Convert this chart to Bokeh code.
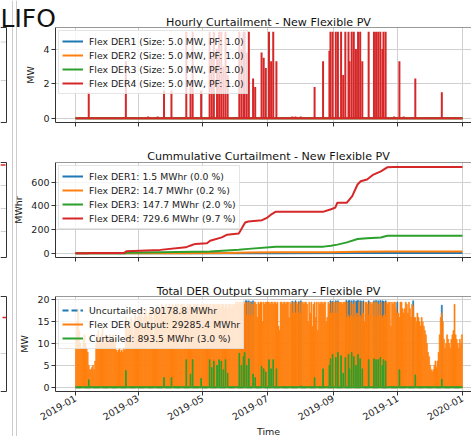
import pandas as pd
from bokeh.plotting import figure
from bokeh.layouts import column
from bokeh.models import (Range1d, FixedTicker, DatetimeTickFormatter, Legend, LegendItem,
                          Span, GridBox, CustomJSTickFormatter)
from bokeh.core.properties import value
from bokeh.embed import file_html
from bokeh.resources import INLINE

FONT = "DejaVu Sans"
C_BLUE, C_ORANGE, C_GREEN, C_RED = "#1f77b4", "#ff7f0e", "#2ca02c", "#d62728"

# ---------------- data ----------------
start_date = "2019-01-01"
tick_labels = ["2019-01", "2019-03", "2019-05", "2019-07", "2019-09", "2019-11", "2020-01"]

suptitle_fragment = "LIFO"
titles = ["Hourly Curtailment - New Flexible PV", "Cummulative Curtailment - New Flexible PV",
          "Total DER Output Summary - Flexible PV"]
x_label = "Time"
hourly_labels = ["Flex DER1 (Size: 5.0 MW, PF: 1.0)", "Flex DER2 (Size: 5.0 MW, PF: 1.0)",
                 "Flex DER3 (Size: 5.0 MW, PF: 1.0)", "Flex DER4 (Size: 5.0 MW, PF: 1.0)"]
cum_labels = ["Flex DER1: 1.5 MWhr (0.0 %)", "Flex DER2: 14.7 MWhr (0.2 %)",
              "Flex DER3: 147.7 MWhr (2.0 %)", "Flex DER4: 729.6 MWhr (9.7 %)"]
summary_labels = ["Uncurtailed: 30178.8 MWhr", "Flex DER Output: 29285.4 MWhr",
                  "Curtailed: 893.5 MWhr (3.0 %)"]

# days (since 2019-01-01) with curtailment, DER4 peak curtailment (MW), total curtailed peak (MW)
spike_days = [12, 47, 68, 77, 83, 90, 104, 108, 110, 118, 126, 128, 130, 133, 135, 137, 139, 141, 143,
              154, 156, 158, 159, 161, 163, 167, 169, 175, 177, 179, 182, 184, 186, 189, 204, 207, 212,
              225, 233, 239, 240, 242, 245, 247, 250, 252, 254, 257, 258, 260, 262, 264, 266, 268, 270,
              276, 281, 283, 285, 287, 289, 290, 292, 300, 305, 309, 320, 345]
der4_mw = [1.5, 3.3, 0.1, 0.1, 1.6, 1.6, 5.0, 2.2, 5.0, 1.6, 5.0, 3.5, 5.0, 4.0, 5.0, 5.0, 3.0, 5.0, 2.5,
           5.0, 4.0, 5.0, 5.0, 3.8, 5.0, 2.3, 1.8, 3.8, 3.5, 2.9, 5.0, 3.3, 5.0, 3.3, 0.1, 0.1, 0.1,
           1.8, 3.3, 3.9, 5.0, 5.0, 5.0, 5.0, 5.0, 2.5, 5.0, 5.0, 3.3, 5.0, 5.0, 4.0, 5.0, 5.0, 3.3,
           5.0, 5.0, 5.0, 5.0, 5.0, 4.0, 5.0, 5.0, 0.1, 3.3, 0.1, 2.3, 1.5]
curt_mw = [1.7, 3.8, 0.1, 0.1, 2.2, 2.2, 6.3, 3.0, 6.3, 2.0, 6.3, 4.5, 6.0, 5.0, 6.3, 6.0, 4.0, 6.3, 3.2,
           7.8, 5.0, 7.0, 8.0, 5.0, 6.5, 3.0, 2.2, 4.8, 4.2, 3.5, 6.3, 4.2, 6.3, 4.2, 0.1, 0.1, 0.3,
           2.2, 4.2, 5.0, 6.5, 7.5, 6.8, 8.0, 7.2, 3.2, 6.8, 7.5, 4.2, 8.0, 7.0, 5.0, 7.5, 6.5, 4.2,
           6.3, 6.5, 6.3, 6.3, 6.8, 5.0, 6.3, 6.0, 0.1, 4.0, 0.1, 2.8, 1.8]

# cumulative curtailment (day, MWhr)
cum_der1_days = [0, 157, 189, 266, 294, 365]
cum_der1 = [0, 0, 0.6, 1.2, 1.5, 1.5]
cum_der2_days = [0, 104, 143, 163, 189, 241, 266, 294, 365]
cum_der2 = [0, 0, 3, 6, 8, 9, 12, 14.7, 14.7]
cum_der3_days = [0, 12, 13, 47, 48, 80, 127, 154, 163, 189, 234, 241, 247, 256, 266, 275, 288, 294, 365]
cum_der3 = [0, 0, 1, 1, 4, 8, 14, 30, 37, 56, 56, 64, 73, 92, 120, 126, 134, 147.7, 147.7]
cum_der4_days = [0, 12, 13, 46, 48, 80, 104, 108, 113, 124, 127, 138, 143, 154, 157, 160, 163, 176, 181,
                 184, 189, 234, 241, 245, 247, 256, 261, 266, 269, 275, 281, 288, 294, 300, 365]
cum_der4 = [0, 0, 3, 3, 17, 28.5, 50, 64, 79, 84, 106, 134, 157, 168, 213, 260, 268, 280, 302,
            324, 352, 352, 372, 386, 428, 428, 484, 582, 609, 624, 666, 693, 727, 729, 729.6]

# daily peak of flexible DER output (MW), one value per day of 2019
flex_jan = [11, 15, 18, 13, 10, 9, 9, 11, 12, 10, 9, 8, 5, 4, 4, 4.5, 5, 4, 6, 10, 12, 13, 11, 10, 12, 14,
            11, 10, 12, 11, 10]
flex_feb = [11, 12, 10, 11, 12, 10, 11, 8.5, 8, 8.5, 9, 8, 8.5, 8, 9, 8.5, 16, 14, 12, 15, 13, 16, 14, 12,
            15, 17, 14, 16]
flex_mar = [15, 17, 16, 18, 14, 16, 17, 18, 16, 15, 17, 18, 17, 16, 12, 17, 18, 17, 18, 16, 17, 18, 19, 17,
            16, 18, 19, 18, 17, 19, 18]
flex_apr = [18, 19, 18, 17, 19, 18, 19, 17, 18, 19, 19, 18, 19, 18, 17, 19, 18, 19, 19, 18, 17, 19, 18, 19,
            18, 19, 17, 18, 19, 18]
flex_may = [19, 19, 18, 19, 19, 18, 19, 19, 18, 19, 19, 19, 18, 19, 19, 19, 18, 19, 19, 19, 18, 19, 19, 18,
            19, 19, 19, 18, 19, 19, 19]
flex_jun = [19.5, 19.5, 19, 19.5, 19.5, 19, 19.5, 19.5, 19, 19.5, 16.5, 19.5, 16.5, 19.5, 16.5, 19, 16.5,
            19.5, 19.5, 19, 16, 19.5, 19, 19.5, 19.5, 15, 19.5, 19, 19.5, 19.5]
flex_jul = [19.5, 19.5, 19, 19.5, 19.5, 19, 19.5, 19.5, 19, 19.5, 14, 13, 19.5, 19.5, 19, 19.5, 19.5, 19,
            19.5, 19.5, 16, 19.5, 19, 17, 19.5, 19.5, 17, 19.5, 19, 17, 19.5]
flex_aug = [17, 19.5, 19.5, 19, 19.5, 19.5, 19, 15, 19.5, 17, 19.5, 14, 19, 19.5, 16, 19.5, 13, 19.5, 19,
            19.5, 19.5, 19, 19.5, 19.5, 15, 16, 19.5, 19, 17, 19.5, 17]
flex_sep = [19.5, 19.5, 17, 19.5, 17, 19.5, 19.5, 19.5, 19, 19.5, 19.5, 19.5, 16, 19.5, 16.5, 16, 19.5,
            16.5, 19, 16, 19.5, 16.5, 17, 16, 19.5, 16.5, 16, 19.5, 17, 15]
flex_oct = [19.5, 19.5, 19, 16.5, 19.5, 19.5, 19, 19.5, 16.5, 19.5, 16, 19.5, 16.5, 19, 16.5, 19.5, 16,
            16.5, 19.5, 16.5, 19.5, 19, 19.5, 19.5, 14, 19.5, 19, 19.5, 19.5, 18, 17]
flex_nov = [17, 16, 19.5, 19.5, 18, 17, 18, 19.5, 19, 17, 19.5, 18, 16, 19, 18.5, 16, 16, 15, 17, 16, 15,
            14, 16, 15, 14, 13, 12, 10, 8, 7]
flex_dec = [5, 4, 3.5, 4, 5, 6, 4.5, 6, 8, 12, 16, 17, 15, 11, 9, 10, 12, 11, 10, 9, 11, 12, 13, 19, 12, 11,
            10, 9, 11, 10, 12]
flex_months = [flex_jan, flex_feb, flex_mar, flex_apr, flex_may, flex_jun, flex_jul, flex_aug,
               flex_sep, flex_oct, flex_nov, flex_dec]

# days where the uncurtailed peak shows above the flexible output, and that peak (MW)
uncurt_days = [160, 161, 163, 165, 167, 204, 207, 210, 212, 240, 242, 245, 247, 255, 257, 258, 260, 262,
               264, 265, 266, 268, 269, 271, 276, 281, 283, 285, 287, 289, 290, 292, 303, 318, 345]
uncurt_mw = [19.8, 19.8, 19.8, 19.6, 19.8, 19.7, 19.8, 19.6, 19.8, 19.8, 19.7, 19.8, 19.8, 19.9, 19.8,
             19.9, 19.8, 19.9, 19.7, 19.8, 19.9, 19.8, 19.7, 19.8, 19.8, 19.8, 19.9, 19.8, 19.9, 19.8,
             19.7, 19.8, 19.5, 19.8, 18.8]

# ---------------- helpers ----------------
t0 = pd.Timestamp(start_date)
DAY_MS = 86400000.0


def to_dates(days, shift=0.0):
    return [t0 + pd.Timedelta(days=float(d) + shift) for d in days]


tick_ms = [pd.Timestamp(s + "-01").value / 1e6 for s in tick_labels]
x_start = t0 - pd.Timedelta(days=18.86)
x_end = t0 + pd.Timedelta(days=373.5)
year_span = to_dates([0, 365])

W, H = 471, 436
LEFT = 55


def make_fig(height, top, bottom, y0, y1, yticks, ylabel, show_xlabels):
    p = figure(width=W, height=height, x_axis_type="datetime", output_backend="svg",
               toolbar_location=None, x_range=Range1d(x_start, x_end), y_range=Range1d(y0, y1),
               min_border_left=LEFT, min_border_right=0, min_border_top=top,
               min_border_bottom=bottom)
    p.outline_line_color = None
    p.background_fill_color = "white"
    p.border_fill_color = None
    for ax in (p.xaxis[0], p.yaxis[0]):
        ax.axis_line_color = "#333333"
        ax.major_tick_line_color = "#333333"
        ax.major_tick_out = 4
        ax.major_tick_in = 0
        ax.minor_tick_line_color = None
        ax.major_label_text_font = FONT
        ax.major_label_text_font_size = "9.5px"
        ax.major_label_text_color = "#222222"
        ax.major_label_standoff = 2
    p.xaxis.ticker = FixedTicker(ticks=tick_ms)
    if show_xlabels:
        p.xaxis.formatter = DatetimeTickFormatter(days="%Y-%m", months="%Y-%m", years="%Y-%m")
    else:
        p.xaxis.formatter = CustomJSTickFormatter(code="return ''")
    p.yaxis.ticker = FixedTicker(ticks=yticks)
    p.yaxis.axis_label = ylabel
    p.yaxis.axis_label_text_font = FONT
    p.yaxis.axis_label_text_font_size = "9.5px"
    p.yaxis.axis_label_text_font_style = "normal"
    p.yaxis.axis_label_text_color = "#222222"
    p.yaxis.axis_label_standoff = 4
    p.grid.grid_line_color = "#d0d0d0"
    p.grid.grid_line_width = 1
    p.add_layout(Span(location=y1, dimension="width", line_color="#333333", line_width=1))
    return p


def make_legend(items):
    return Legend(items=items, location="top_left", margin=3, padding=3, spacing=0,
                  label_height=14, glyph_height=14, glyph_width=21, label_standoff=6,
                  label_text_font=FONT, label_text_font_size="9.3px", label_text_color="#222222",
                  background_fill_color="white", background_fill_alpha=0.8,
                  border_line_color="#cccccc", border_line_width=1)


colors = [C_BLUE, C_ORANGE, C_GREEN, C_RED]

# ---------------- top: hourly curtailment ----------------
p1 = make_fig(140, 27, 18, -0.25, 5.25, [0, 2, 4], "MW", False)
items1 = []
for i, c in enumerate(colors):
    r = p1.line(year_span, [0, 0], line_color=c, line_width=2)
    items1.append(LegendItem(label=hourly_labels[i], renderers=[r]))
p1.segment(x0=to_dates(spike_days, 0.5), y0=[0] * len(spike_days), x1=to_dates(spike_days, 0.5),
           y1=der4_mw, line_color=C_RED, line_width=2)
p1.add_layout(make_legend(items1))

# ---------------- middle: cumulative ----------------
p2 = make_fig(135, 22, 18, -36, 768, [0, 200, 400, 600], "MWhr", False)
items2 = []
for i, (dd, vv) in enumerate([(cum_der1_days, cum_der1), (cum_der2_days, cum_der2),
                              (cum_der3_days, cum_der3), (cum_der4_days, cum_der4)]):
    r = p2.line(to_dates(dd), vv, line_color=colors[i], line_width=2)
    items2.append(LegendItem(label=cum_labels[i], renderers=[r]))
p2.add_layout(make_legend(items2))

# ---------------- bottom: summary ----------------
p3 = make_fig(161, 21, 45, -1, 20.8, [0, 5, 10, 15, 20], "MW", True)
p3.xaxis.major_label_orientation = 0.5236

flex_mw = [v for m in flex_months for v in m]
flex_days = list(range(len(flex_mw)))
p3.vbar(x=to_dates(uncurt_days, 0.5), width=DAY_MS, bottom=0, top=uncurt_mw,
        fill_color=C_BLUE, line_color=C_BLUE, line_width=0.6)
p3.vbar(x=to_dates(flex_days, 0.5), width=DAY_MS, bottom=0, top=flex_mw,
        fill_color=C_ORANGE, line_color=C_ORANGE, line_width=0.6)
p3.vbar(x=to_dates(spike_days, 0.5), width=DAY_MS * 0.6, bottom=0, top=curt_mw,
        fill_color=C_GREEN, line_color=C_GREEN, line_width=1)
r_unc = p3.line(year_span, [0, 0], line_color=C_BLUE, line_width=2, line_dash="6 3")
r_flex = p3.line(year_span, [0, 0], line_color=C_ORANGE, line_width=2)
r_curt = p3.line(year_span, [0, 0], line_color=C_GREEN, line_width=2)
p3.add_layout(make_legend([LegendItem(label=summary_labels[0], renderers=[r_unc]),
                           LegendItem(label=summary_labels[1], renderers=[r_flex]),
                           LegendItem(label=summary_labels[2], renderers=[r_curt])]))

main = column(p1, p2, p3, spacing=0)

# ---------------- background canvas: cropped neighbour, titles, x label ----------------
bg = figure(width=W, height=H, output_backend="svg", toolbar_location=None,
            x_range=Range1d(0, W), y_range=Range1d(H, 0),
            min_border=0, min_border_left=0, min_border_right=0, min_border_top=0, min_border_bottom=0)
bg.axis.visible = False
bg.grid.visible = False
bg.outline_line_color = None
bg.background_fill_color = "white"
bg.border_fill_color = "white"

# neighbouring figure (cut off at the left edge)
nb_top = [27, 162, 296]
nb_bot = [122, 257, 391]
bg.segment(x0=[0, 0, 0, 0, 0, 0], y0=[41.5, 80, 185, 208, 231, 353],
           x1=[6, 6, 6, 6, 6, 6], y1=[41.5, 80, 185, 208, 231, 353], line_color="#d0d0d0", line_width=1)
bg.segment(x0=[0] * 3, y0=nb_top, x1=[6] * 3, y1=nb_top, line_color="#333333", line_width=1)
bg.segment(x0=[0] * 3, y0=nb_bot, x1=[6] * 3, y1=nb_bot, line_color="#333333", line_width=1)
bg.segment(x0=[6] * 3, y0=nb_top, x1=[6] * 3, y1=nb_bot, line_color="#333333", line_width=1)
bg.segment(x0=[0, 2], y0=[164.5, 317], x1=[5, 6], y1=[164.5, 317], line_color=C_RED, line_width=1.5)
bg.segment(x0=[12, 16], y0=[0, 0], x1=[12, 16], y1=[H, H], line_color="#cccccc", line_width=1)

bg.text(x=[0], y=[18.3], text=[suptitle_fragment], text_font=value(FONT), text_font_size="25px",
        text_color="#111111", text_baseline="alphabetic", text_align="left")
bg.text(x=[268, 268, 268], y=[21.5, 156, 291], text=titles, text_font=value(FONT),
        text_font_size="11.1px", text_color="#111111", text_baseline="alphabetic", text_align="center")
bg.text(x=[268], y=[431], text=[x_label], text_font=value(FONT), text_font_size="9.5px",
        text_color="#222222", text_baseline="alphabetic", text_align="center")

page = GridBox(children=[(bg, 0, 0), (main, 0, 0)], width=W, height=H)
open("out.html", "w").write(file_html(page, INLINE))
